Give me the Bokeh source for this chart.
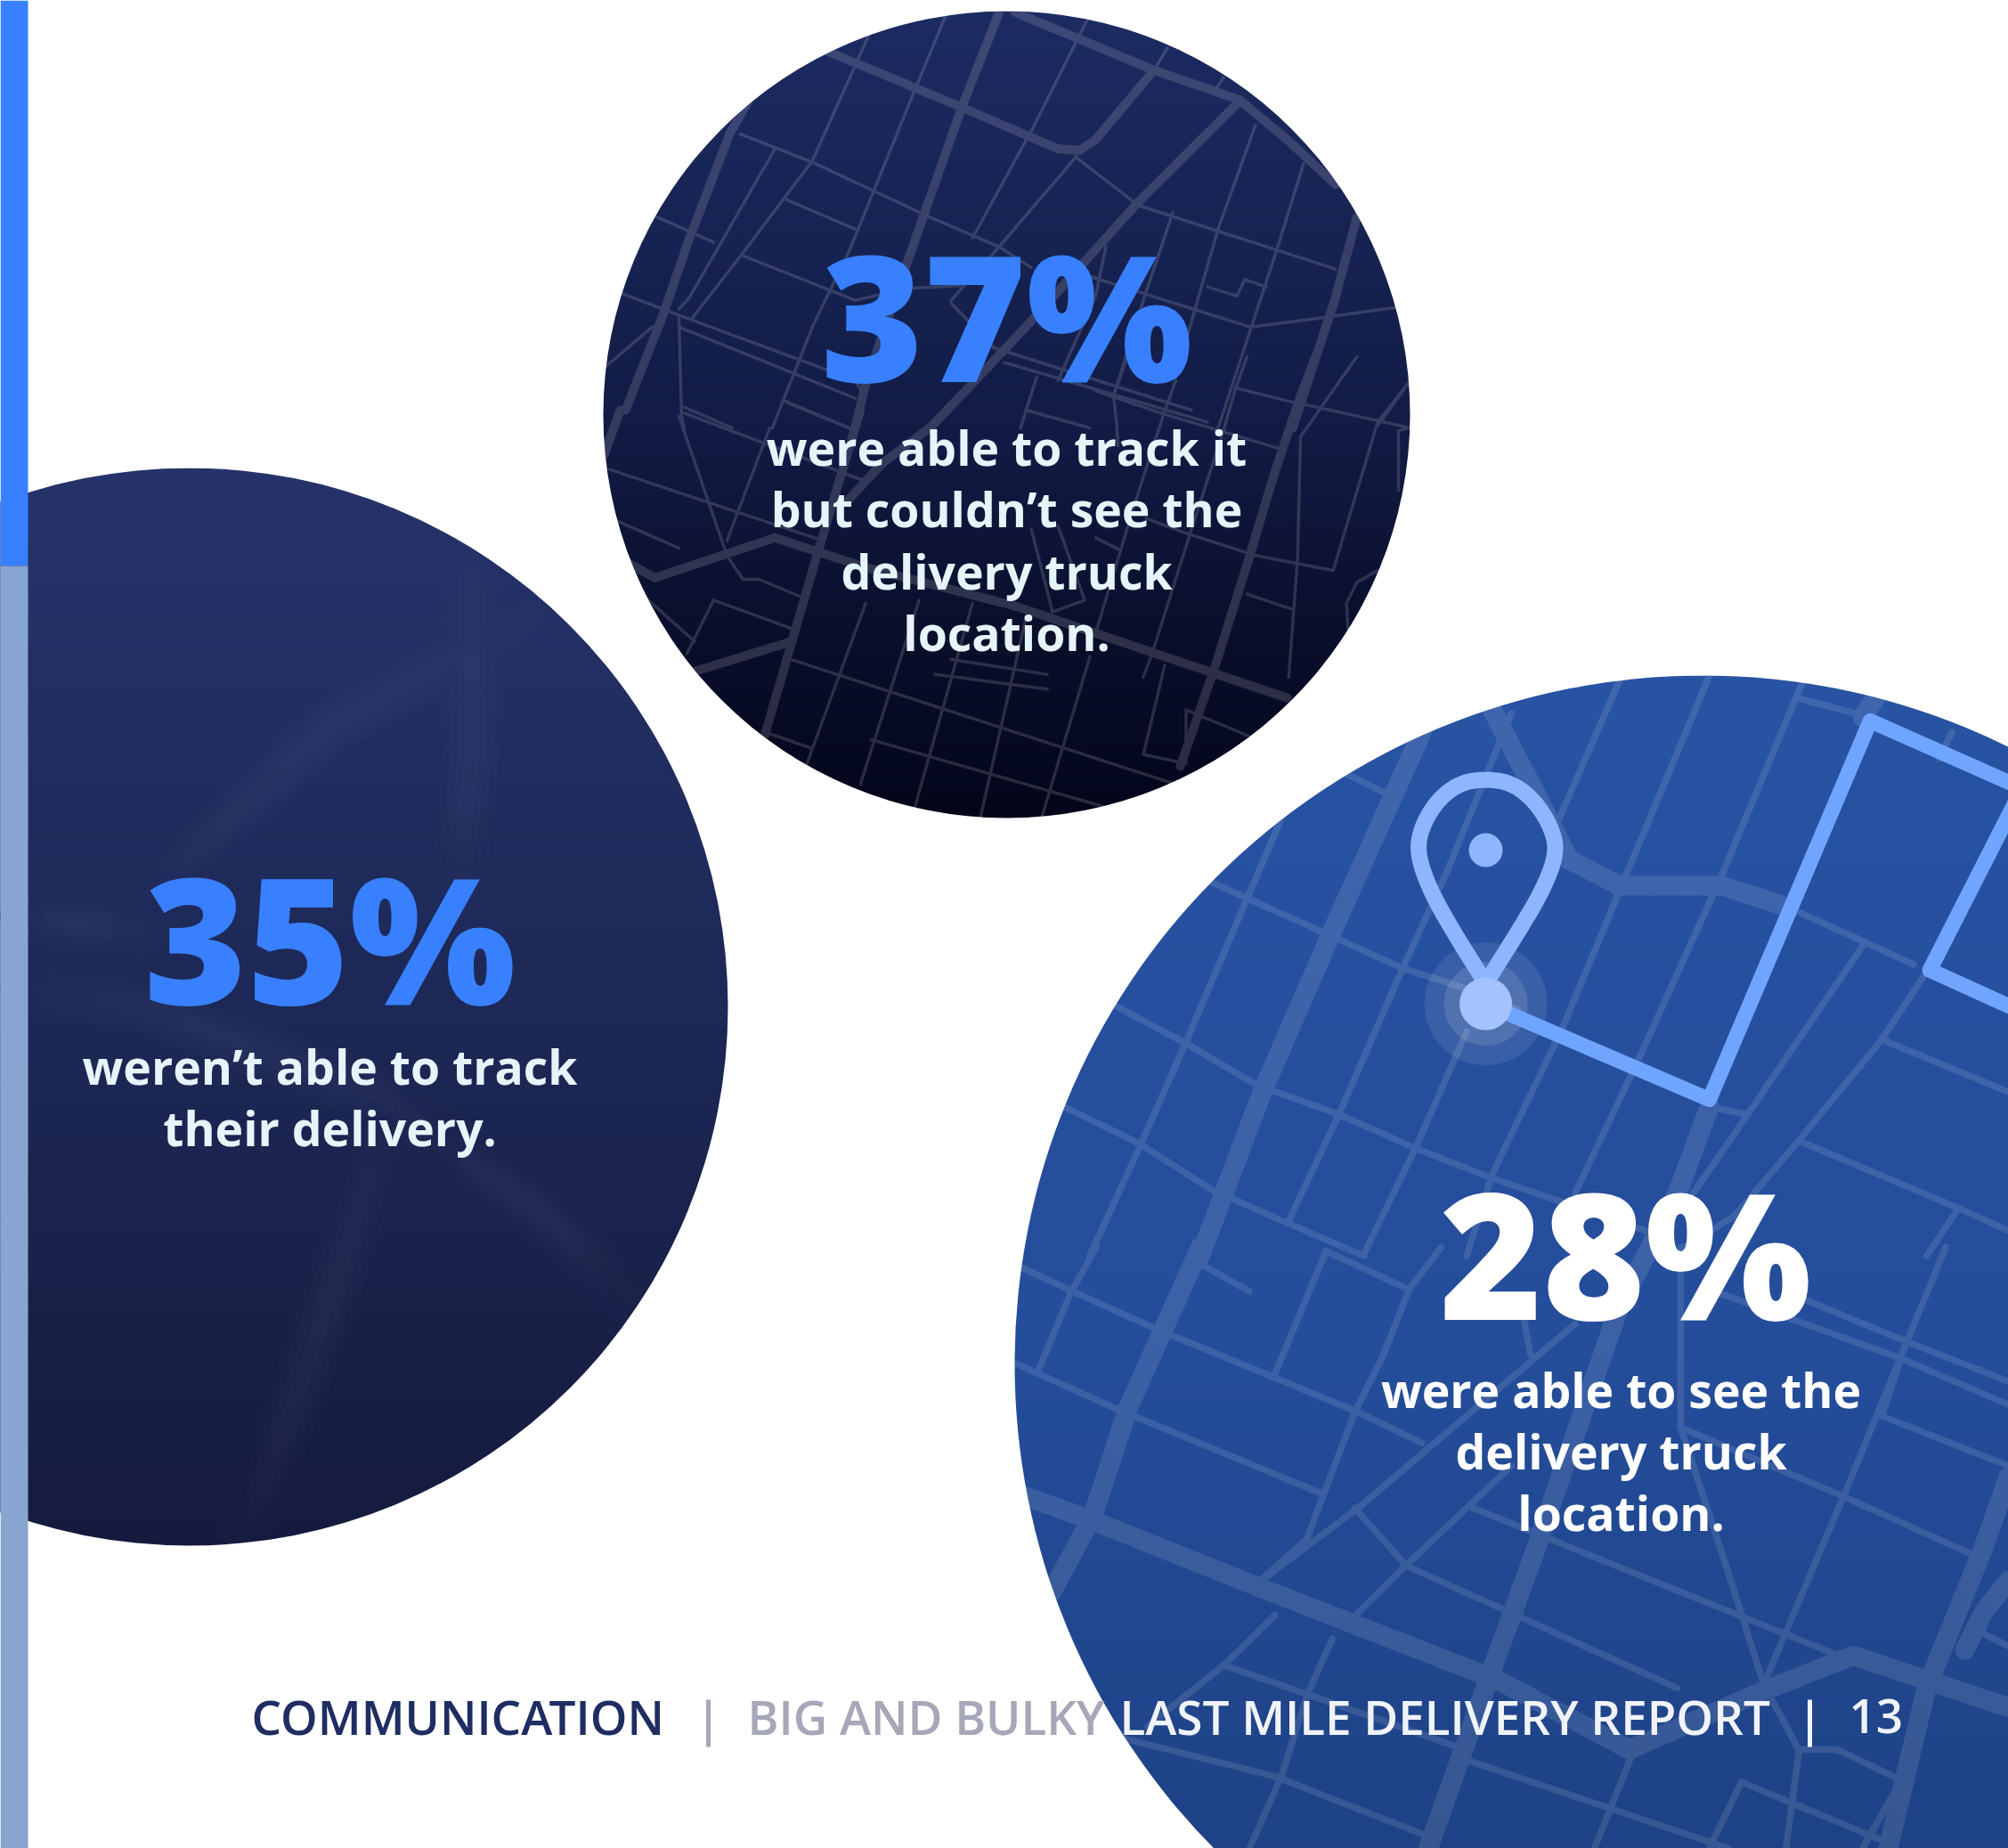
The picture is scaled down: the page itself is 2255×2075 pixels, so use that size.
from bokeh.embed import file_html
from bokeh.models import ColumnDataSource, Range1d
from bokeh.plotting import figure
from bokeh.resources import INLINE
from bokeh.core.properties import value
import math

W, H = 2255, 2075

# ---- headline figures and their captions ----
PERCENTS = [37, 35, 28]
CAPTIONS = [
    ["were able to track it", "but couldn’t see the", "delivery truck", "location."],
    ["weren’t able to track", "their delivery."],
    ["were able to see the", "delivery truck", "location."],
]
FOOTER_SECTION = "COMMUNICATION"
FOOTER_TITLE_A = "BIG AND BULKY"
FOOTER_TITLE_B = "LAST MILE DELIVERY REPORT"
FOOTER_PAGE = "13"

# ---- discs: centre x, centre y, radius, vertical colour stops ----
DISC_TOP = (1130, 465, 453, [(13, "#1c2b62"), (465, "#121c46"), (700, "#0a0f2c"), (918, "#03061a")])
DISC_LEFT = (212, 1130, 605, [(525, "#25336a"), (1130, "#1d2856"), (1735, "#151b3e")])
DISC_RIGHT = (1912, 1531, 773, [(758, "#2853a3"), (1531, "#244d9a"), (2075, "#1e4285")])

# ---- street maps, each digitised on its own grid (origin x, origin y, scale x, scale y) ----
GRID_A = (660, 0, 1.668, 3.0)
GRID_B = (660, 460, 1.668, 3.0)
GRID_C = (0, 500, 1.889, 2.613)
GRID_D = (0, 1100, 1.858, 2.376)
GRID_E = (1130, 750, 1.394, 2.376)
GRID_F = (1130, 1400, 1.394, 2.323)
GRID_H = (1230, 400, 3.0, 3.0)
GRID_I = (680, 300, 3.0, 3.0)

TOP_MAJOR_A = [
    [(440, 165), (700, 360), (835, 465), (880, 500), (920, 505), (950, 470), (1060, 235)],
    [(800, 40), (1060, 235), (1220, 335), (1310, 470), (1400, 620)],
    [(770, 40), (700, 360), (600, 870), (520, 1290), (500, 1440)],
    [(1220, 340), (1030, 680), (940, 860), (830, 1080), (720, 1290), (640, 1440)],
    [(300, 340), (265, 450), (190, 800), (140, 1060), (70, 1380)],
    [(1440, 730), (1400, 1000), (1320, 1440)],
]
TOP_MINOR_A = [
    [(670, 50), (610, 310), (490, 840), (420, 1100), (345, 1440)],
    [(525, 120), (420, 540), (290, 850), (195, 1070)],
    [(935, 65), (830, 440), (720, 800)],
    [(350, 500), (190, 1000), (170, 1040)],
    [(285, 450), (420, 545), (640, 730), (770, 830), (830, 900)],
    [(130, 730), (235, 815)],
    [(370, 670), (500, 770)],
    [(290, 860), (500, 1010), (600, 970), (700, 960)],
    [(915, 525), (760, 850), (680, 1010)],
    [(915, 530), (1030, 690), (1400, 905)],
    [(1095, 715), (1040, 1010), (990, 1300)],
    [(1250, 420), (1180, 770), (1100, 1270)],
    [(1340, 550), (1290, 840), (1180, 1440)],
    [(1085, 160), (1060, 235)],
    [(1190, 260), (1175, 300)],
    [(60, 985), (170, 1060), (500, 1280), (510, 1310)],
    [(170, 1100), (500, 1340)],
    [(170, 1060), (175, 1400), (180, 1440)],
    [(35, 1230), (120, 1100)],
    [(180, 1370), (270, 1440)],
    [(370, 1350), (490, 1440)],
    [(940, 930), (1240, 1100), (1370, 1070), (1510, 1035)],
    [(1160, 965), (1215, 995), (1230, 940), (1270, 965)],
    [(680, 1020), (760, 1170), (1130, 1380)],
    [(780, 1220), (1160, 1420)],
    [(840, 1270), (810, 1440)],
    [(820, 1380), (940, 1440)],
    [(1480, 1430), (1540, 1280)],
    [(970, 830), (950, 1000), (880, 1280)],
]
TOP_MAJOR_B = [
    [(75, 515), (125, 565), (350, 430), (520, 530), (800, 660), (1310, 970)],
    [(200, 880), (380, 780)],
    [(510, 0), (430, 480), (330, 1100)],
    [(60, 0), (30, 150)],
]
TOP_MINOR_B = [
    [(170, 20), (260, 490), (290, 570), (320, 570), (400, 630)],
    [(180, 10), (520, 240)],
    [(40, 200), (440, 440)],
    [(50, 370), (170, 465)],
    [(340, 60), (260, 440)],
    [(235, 640), (380, 735)],
    [(235, 640), (185, 820)],
    [(380, 840), (1100, 1260)],
    [(100, 620), (200, 780)],
    [(340, 1090), (420, 1140)],
    [(530, 1110), (1090, 1400)],
    [(520, 650), (410, 1190)],
    [(620, 640), (510, 1260)],
    [(720, 650), (610, 1350)],
    [(820, 700), (735, 1370)],
    [(940, 830), (850, 1370)],
    [(1080, 860), (1040, 1160), (1120, 1190), (1120, 1010), (1240, 1100)],
    [(680, 840), (860, 890)],
    [(650, 890), (860, 940)],
    [(830, 400), (870, 680), (930, 640), (880, 390)],
]
TOP_MAJOR_H = [
    [(740, 0), (680, 160), (600, 400), (510, 700), (400, 1050), (285, 1380)],
]
TOP_MINOR_H = [
    [(270, 80), (230, 190), (130, 500), (0, 930)],
    [(510, 0), (470, 110), (430, 250), (320, 590), (190, 1000), (160, 1080)],
    [(470, 105), (670, 155)],
    [(700, 160), (1060, 240)],
    [(880, 0), (760, 170), (690, 270), (680, 680), (650, 1080)],
    [(950, 220), (800, 720), (540, 670), (320, 600), (170, 545)],
    [(1060, 80), (950, 220)],
    [(1050, 240), (1020, 250), (1020, 450)],
    [(510, 800), (660, 850)],
    [(950, 720), (880, 760), (845, 830), (850, 920)],
    [(0, 115), (220, 190), (620, 310)],
    [(100, 20), (60, 130), (70, 220), (75, 300)],
    [(0, 610), (80, 650)],
]
TOP_MAJOR_I = [
    [(1090, 540), (930, 660), (810, 790)],
]
TOP_MINOR_I = [
    [(610, 455), (830, 545)],
]
RIGHT_MAJOR_E = [
    [(650, 170), (510, 700), (400, 1130), (303, 1568)],
    [(760, 110), (830, 340), (880, 510), (960, 580), (1120, 580), (1210, 630)],
    [(1100, 1170), (1050, 1400), (1000, 1568)],
    [(1360, 80), (1340, 130)],
]
RIGHT_MINOR_E = [
    [(530, 280), (590, 330)],
    [(960, 30), (860, 420)],
    [(1100, 20), (970, 550), (870, 960), (760, 1350), (720, 1568)],
    [(1245, 40), (1120, 550), (990, 1040), (890, 1400)],
    [(1240, 80), (1350, 130)],
    [(1480, 170), (1460, 240)],
    [(790, 120), (690, 540), (620, 800), (520, 1190), (440, 1480)],
    [(430, 400), (380, 600), (280, 1000), (210, 1270), (130, 1568)],
    [(320, 570), (490, 700), (620, 800), (730, 860), (800, 910)],
    [(170, 900), (280, 1000), (390, 1110), (520, 1190), (640, 1280), (760, 1360), (880, 1430), (1000, 1500)],
    [(90, 1170), (210, 1270), (320, 1390), (440, 1480), (560, 1568)],
    [(720, 970), (640, 1280), (560, 1560)],
    [(1240, 650), (1420, 790)],
    [(1340, 740), (1160, 1190), (1075, 1400)],
    [(1160, 1190), (1100, 1170)],
    [(1440, 810), (1370, 990), (1240, 1260), (1140, 1460), (1060, 1545)],
    [(1370, 990), (1568, 1130)],
    [(1240, 1260), (1490, 1440), (1568, 1500)],
    [(1490, 1440), (1440, 1568)],
]
RIGHT_MAJOR_F = [
    [(303, 0), (190, 420), (135, 700), (70, 900)],
    [(30, 650), (130, 710), (400, 890), (770, 1130), (975, 1310), (1180, 1160), (1325, 1065), (1568, 1200)],
    [(1000, 23), (960, 150), (830, 780), (760, 1100), (660, 1568)],
    [(1568, 600), (1530, 780), (1440, 1150), (1380, 1568)],
    [(1568, 870), (1530, 950), (1500, 1050)],
]
RIGHT_MINOR_F = [
    [(20, 50), (110, 120), (230, 210), (550, 430), (650, 510)],
    [(10, 300), (170, 420), (490, 640)],
    [(140, 0), (100, 120), (50, 320)],
    [(500, 10), (420, 330)],
    [(300, 40), (380, 115)],
    [(500, 10), (630, 110), (590, 280), (545, 430), (470, 760), (390, 880)],
    [(630, 110), (680, 0)],
    [(810, 190), (820, 280)],
    [(890, 200), (550, 680), (390, 880)],
    [(545, 680), (625, 830)],
    [(790, 570), (625, 830), (540, 970)],
    [(625, 830), (1050, 1150)],
    [(730, 680), (1310, 1070)],
    [(1055, 0), (1055, 470), (1310, 650), (1510, 800)],
    [(1055, 470), (1130, 850), (1185, 1140), (1240, 1310), (1300, 1310), (1400, 1390), (1340, 1568)],
    [(1470, 0), (1310, 650), (1185, 1140)],
    [(1100, 110), (1400, 290), (1568, 410)],
    [(1240, 130), (1400, 240), (1568, 350)],
    [(1370, 440), (1568, 570)],
    [(1400, 290), (1370, 440)],
    [(420, 960), (340, 1090), (220, 1250)],
    [(340, 1090), (700, 1300)],
    [(510, 1020), (470, 1170), (430, 1380), (380, 1568)],
    [(180, 1280), (420, 1380), (650, 1530)],
    [(725, 1340), (1130, 1568)],
    [(980, 1320), (920, 1568)],
    [(1240, 1320), (1220, 1568)],
    [(1150, 1395), (1100, 1568)],
    [(1150, 1395), (1390, 1560)],
    [(1520, 1000), (1568, 1040)],
]
# Out-of-focus streets inside the left disc
LEFT_STREAKS_C = [
    [(1120, 500), (700, 820), (520, 1050), (300, 1320)],
    [(1000, 300), (1000, 900), (970, 1300)],
    [(60, 1380), (300, 1420)],
]
LEFT_STREAKS_D = [
    [(800, 400), (700, 800), (620, 1100), (500, 1520)],
    [(900, 420), (1130, 620), (1330, 860)],
    [(60, 20), (300, 70), (800, 310), (950, 460)],
]
# Delivery route and map pin
ROUTE = [(750, 895), (1100, 1150), (1352, 140), (1590, 320), (1445, 805), (1620, 940)]
PIN_OUTLINE = [(750, 840), (700, 705), (662, 590), (642, 490), (650, 420), (675, 350), (710, 305), (750, 295),
               (790, 305), (825, 350), (852, 420), (862, 490), (840, 590), (800, 705), (750, 840)]
PIN_HEAD = (750, 485)
PIN_FOOT = (750, 895)


def on_grid(grid, pts):
    x0, y0, sx, sy = grid
    return [(x0 + u / sx, y0 + v / sy) for u, v in pts]


def rounded(pts, passes=3):
    # corner cutting keeps the two end points and softens the rest
    for _ in range(passes):
        out = [pts[0]]
        for a, b in zip(pts, pts[1:]):
            out.append((a[0] * .75 + b[0] * .25, a[1] * .75 + b[1] * .25))
            out.append((a[0] * .25 + b[0] * .75, a[1] * .25 + b[1] * .75))
        out.append(pts[-1])
        pts = out
    return pts


def hex_rgb(c):
    return tuple(int(c[i:i + 2], 16) for i in (1, 3, 5))


def shade(stops, y):
    if y <= stops[0][0]:
        return hex_rgb(stops[0][1])
    for (y0, c0), (y1, c1) in zip(stops, stops[1:]):
        if y <= y1:
            t = (y - y0) / (y1 - y0)
            a, b = hex_rgb(c0), hex_rgb(c1)
            return tuple(a[i] + (b[i] - a[i]) * t for i in range(3))
    return hex_rgb(stops[-1][1])


def css(rgb):
    return "#%02x%02x%02x" % tuple(int(round(v)) for v in rgb)


def clip_segment(a, b, cx, cy, r):
    dx, dy = b[0] - a[0], b[1] - a[1]
    fx, fy = a[0] - cx, a[1] - cy
    qa = dx * dx + dy * dy
    qb = 2 * (fx * dx + fy * dy)
    qc = fx * fx + fy * fy - r * r
    disc = qb * qb - 4 * qa * qc
    if qa == 0 or disc <= 0:
        return None
    s = math.sqrt(disc)
    t0 = max(0, (-qb - s) / (2 * qa))
    t1 = min(1, (-qb + s) / (2 * qa))
    if t0 >= t1:
        return None
    return (a[0] + dx * t0, a[1] + dy * t0), (a[0] + dx * t1, a[1] + dy * t1)


def street_pieces(lines, disc, width, tint, strength):
    """Cut streets to the disc and colour each short piece against the gradient beneath it."""
    cx, cy, r, stops = disc
    xs, ys, colors, widths = [], [], [], []
    for line in lines:
        for a, b in zip(line, line[1:]):
            seg = clip_segment(a, b, cx, cy, r + 6)
            if seg is None:
                continue
            (x0, y0), (x1, y1) = seg
            n = max(1, int(math.hypot(x1 - x0, y1 - y0) / 30))
            for i in range(n):
                t0, t1 = i / n, (i + 1) / n
                px0, py0 = x0 + (x1 - x0) * t0, y0 + (y1 - y0) * t0
                px1, py1 = x0 + (x1 - x0) * t1, y0 + (y1 - y0) * t1
                bg = shade(stops, (py0 + py1) / 2)
                colors.append(css(tuple(bg[k] + (tint[k] - bg[k]) * strength for k in range(3))))
                xs.append([px0, px1])
                ys.append([py0, py1])
                widths.append(width)
    return dict(xs=xs, ys=ys, color=colors, width=widths)


def soft_pieces(lines, disc, width, tint, strength):
    """Blurred street: contrast fades out toward both ends of the line."""
    _, _, _, stops = disc
    xs, ys, colors, widths = [], [], [], []
    for line in lines:
        dense = []
        for a, b in zip(line, line[1:]):
            n = max(1, int(math.hypot(b[0] - a[0], b[1] - a[1]) / 24))
            dense += [(a[0] + (b[0] - a[0]) * i / n, a[1] + (b[1] - a[1]) * i / n) for i in range(n)]
        dense.append(line[-1])
        m = len(dense) - 1
        for i, (a, b) in enumerate(zip(dense, dense[1:])):
            fade = math.sin(math.pi * (i + .5) / m) ** 0.7
            bg = shade(stops, (a[1] + b[1]) / 2)
            k = strength * fade
            colors.append(css(tuple(bg[c] + (tint[c] - bg[c]) * k for c in range(3))))
            xs.append([a[0], b[0]])
            ys.append([a[1], b[1]])
            widths.append(width)
    return dict(xs=xs, ys=ys, color=colors, width=widths)


p = figure(width=W, height=H, x_range=Range1d(0, W), y_range=Range1d(H, 0),
           x_axis_type=None, y_axis_type=None, output_backend="svg", toolbar_location=None,
           min_border=0, outline_line_color=None, background_fill_color="white",
           border_fill_color="white")
p.grid.visible = False


def paint_disc(disc):
    cx, cy, r, stops = disc
    y = int(cy - r)
    lefts, rights, tops, bottoms, fills = [], [], [], [], []
    step = 3
    while y < min(cy + r, H):
        yc = y + step / 2
        near = min(abs(y - cy), abs(y + step - cy))
        half = math.sqrt(max(0, r * r - near * near)) + 2
        lefts.append(cx - half)
        rights.append(cx + half)
        tops.append(y)
        bottoms.append(y + step + 1)
        fills.append(css(shade(stops, yc)))
        y += step
    p.quad(left=lefts, right=rights, top=tops, bottom=bottoms, fill_color=fills, line_color=None)


def trim_disc(disc, band):
    # a white ring gives the disc its clean round edge over street ends and gradient bands
    cx, cy, r, _ = disc
    p.annulus(x=[cx], y=[cy], inner_radius=r, outer_radius=r + band, fill_color="white", line_color=None)


def paint_streets(pieces):
    p.multi_line(xs="xs", ys="ys", line_color="color", line_width="width", line_cap="round",
                 line_join="round", source=ColumnDataSource(pieces))


# top disc with its dark street map
STREET_TINT = (222, 214, 222)
paint_disc(DISC_TOP)
top_minor = ([on_grid(GRID_A, l) for l in TOP_MINOR_A] + [on_grid(GRID_B, l) for l in TOP_MINOR_B]
             + [on_grid(GRID_H, l) for l in TOP_MINOR_H] + [on_grid(GRID_I, l) for l in TOP_MINOR_I])
top_major = ([on_grid(GRID_A, l) for l in TOP_MAJOR_A] + [on_grid(GRID_B, l) for l in TOP_MAJOR_B]
             + [on_grid(GRID_H, l) for l in TOP_MAJOR_H] + [on_grid(GRID_I, l) for l in TOP_MAJOR_I])
paint_streets(street_pieces(top_minor, DISC_TOP, 3.5, STREET_TINT, 0.17))
paint_streets(street_pieces(top_major, DISC_TOP, 10, STREET_TINT, 0.17))
trim_disc(DISC_TOP, 16)

# left disc with soft, out-of-focus streets
paint_disc(DISC_LEFT)
streaks = [on_grid(GRID_C, l) for l in LEFT_STREAKS_C] + [on_grid(GRID_D, l) for l in LEFT_STREAKS_D]
for w, k in ((64, 0.012), (48, 0.025), (32, 0.038), (18, 0.05)):
    paint_streets(soft_pieces(streaks, DISC_LEFT, w, (190, 190, 215), k))
trim_disc(DISC_LEFT, 60)

# right disc with the blue street map
ROAD_TINT = (255, 255, 255)
paint_disc(DISC_RIGHT)
right_minor = [on_grid(GRID_E, l) for l in RIGHT_MINOR_E] + [on_grid(GRID_F, l) for l in RIGHT_MINOR_F]
right_major = [on_grid(GRID_E, l) for l in RIGHT_MAJOR_E] + [on_grid(GRID_F, l) for l in RIGHT_MAJOR_F]
paint_streets(street_pieces(right_minor, DISC_RIGHT, 7.5, ROAD_TINT, 0.11))
paint_streets(street_pieces(right_major, DISC_RIGHT, 22, ROAD_TINT, 0.11))

# route, halo and pin
foot = on_grid(GRID_E, [PIN_FOOT])[0]
head = on_grid(GRID_E, [PIN_HEAD])[0]
p.circle(x=[foot[0]], y=[foot[1]], radius=69, fill_color="white", fill_alpha=0.09, line_color=None)
p.circle(x=[foot[0]], y=[foot[1]], radius=47, fill_color="white", fill_alpha=0.12, line_color=None)
route = on_grid(GRID_E, ROUTE)
p.line(x=[q[0] for q in route], y=[q[1] for q in route], line_color="#70a5ff", line_width=17,
       line_join="round", line_cap="round")
pin = on_grid(GRID_E, rounded(PIN_OUTLINE))
p.line(x=[q[0] for q in pin], y=[q[1] for q in pin], line_color="#8fb5ff", line_width=18, line_join="round")
p.circle(x=[head[0]], y=[head[1]], radius=19, fill_color="#8fb5ff", line_color=None)
p.circle(x=[foot[0]], y=[foot[1]], radius=29.5, fill_color="#a4c2ff", line_color=None)
trim_disc(DISC_RIGHT, 22)

# section marker at the page edge
p.quad(left=[0], right=[31], top=[0], bottom=[635], fill_color="#3880ff", line_color=None)
p.quad(left=[0], right=[31], top=[635], bottom=[H], fill_color="#88a4d0", line_color=None)


def big_number(n, x, y, color):
    size = 197
    p.text(x=[x], y=[y - 0.386 * size], text=[f"{n}%"], text_font=value("Open Sans ExtraBold"),
           text_font_style="normal", text_font_size=f"{size}px", text_color=color,
           text_align="center", text_baseline="alphabetic")


def caption(lines, x, ys, color):
    size = 53.5
    p.text(x=[x] * len(lines), y=[v - 0.4 * size for v in ys], text=lines, text_font=value("Open Sans"),
           text_font_style="bold", text_font_size=f"{size}px", text_color=color,
           text_align="center", text_baseline="alphabetic")


big_number(PERCENTS[0], 1130, 428, "#3880ff")
caption(CAPTIONS[0], 1130, [523, 592, 662, 731], "#e6f4fb")
big_number(PERCENTS[1], 370, 1127, "#3880ff")
caption(CAPTIONS[1], 370, [1218, 1287], "#e6f4fb")
big_number(PERCENTS[2], 1825, 1481, "#ffffff")
caption(CAPTIONS[2], 1820, [1581, 1650, 1719], "#ffffff")


# running footer
def footer(txt, x, color):
    size = 53
    p.text(x=[x], y=[1948 - 0.4 * size], text=[txt], text_font=value("Open Sans SemiBold"),
           text_font_size=f"{size}px", text_color=color, text_align="left", text_baseline="alphabetic")


footer(FOOTER_SECTION, 282, "#1f2d63")
footer(FOOTER_TITLE_A, 839, "#a6a7b8")
footer(FOOTER_TITLE_B, 1257, "#f0f3f8")
footer(FOOTER_PAGE, 2076, "#f0f3f8")
p.segment(x0=[795], y0=[1908], x1=[795], y1=[1961], line_color="#a6a7b8", line_width=5)
p.segment(x0=[2032], y0=[1908], x1=[2032], y1=[1961], line_color="#f0f3f8", line_width=5)

open("out.html", "w").write(file_html(p, INLINE))
